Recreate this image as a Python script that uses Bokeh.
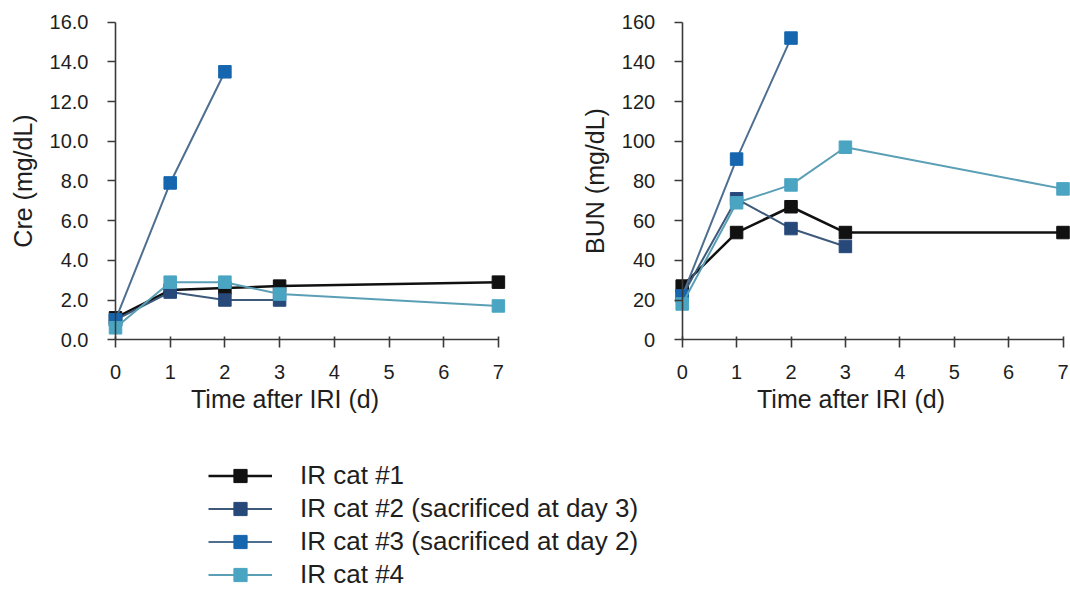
from bokeh.plotting import figure
from bokeh.models import (Range1d, LinearAxis, FixedTicker, Legend, LegendItem,
                          ColumnDataSource, PrintfTickFormatter)
from bokeh.layouts import column, row
from bokeh.embed import file_html
from bokeh.resources import INLINE

# ---------------- data ----------------
days = [0, 1, 2, 3, 7]
series_names = ["IR cat #1", "IR cat #2 (sacrificed at day 3)",
                "IR cat #3 (sacrificed at day 2)", "IR cat #4"]

cre_cat1 = [1.1, 2.5, 2.6, 2.7, 2.9]
cre_cat2 = [1.0, 2.4, 2.0, 2.0]
cre_cat3 = [1.0, 7.9, 13.5]
cre_cat4 = [0.6, 2.9, 2.9, 2.3, 1.7]

bun_cat1 = [27, 54, 67, 54, 54]
bun_cat2 = [22, 71, 56, 47]
bun_cat3 = [22, 91, 152]
bun_cat4 = [18, 69, 78, 97, 76]

x_ticks = [0, 1, 2, 3, 4, 5, 6, 7]
cre_ticks = [0, 2, 4, 6, 8, 10, 12, 14, 16]
bun_ticks = [0, 20, 40, 60, 80, 100, 120, 140, 160]

# ---------------- style ----------------
FONT = "Liberation Sans"
TXT = "#1e1e1e"
AX = "#3a3a3a"
marker_colors = ["#111111", "#27497a", "#1566ae", "#4aa5c2"]
line_colors = ["#111111", "#3d5a7a", "#4f6f90", "#5a9fb6"]
line_widths = [2.5, 2, 2, 2]
TICK_FS = "20px"
TITLE_FS = "25px"


def make_panel(w, h, x0_px, px_per_day, y0_px, ytop_px, ytop_val, yticks, ylabel, fmt):
    px_per_unit = (y0_px - ytop_px) / ytop_val
    xs = -x0_px / px_per_day
    xe = xs + w / px_per_day
    ye = ytop_val + ytop_px / px_per_unit
    ys = ye - h / px_per_unit
    p = figure(width=w, height=h, x_range=Range1d(xs, xe), y_range=Range1d(ys, ye),
               output_backend="svg", toolbar_location=None,
               x_axis_type=None, y_axis_type=None, min_border=0)
    p.outline_line_color = None
    p.background_fill_color = "white"
    p.border_fill_color = "white"

    xax = LinearAxis(ticker=FixedTicker(ticks=x_ticks), bounds=(0, 7))
    xax.fixed_location = 0
    xax.axis_line_color = AX
    xax.axis_line_width = 1.6
    xax.major_tick_line_color = AX
    xax.major_tick_line_width = 1.6
    xax.major_tick_in = 3
    xax.major_tick_out = 8
    xax.minor_tick_line_color = None
    xax.major_label_text_font = FONT
    xax.major_label_text_font_size = TICK_FS
    xax.major_label_text_color = TXT
    xax.major_label_standoff = 17
    p.add_layout(xax, "below")

    # axis carrying the title (no line, ticks or visible tick labels)
    tax = LinearAxis(ticker=FixedTicker(ticks=x_ticks), bounds=(0, 7 - 44 / px_per_day))
    tax.fixed_location = 0
    tax.axis_line_color = None
    tax.major_tick_line_color = None
    tax.major_tick_in = 3
    tax.major_tick_out = 8
    tax.minor_tick_line_color = None
    tax.major_label_text_font = FONT
    tax.major_label_text_font_size = TICK_FS
    tax.major_label_text_alpha = 0
    tax.major_label_standoff = 17
    tax.axis_label = "Time after IRI (d)"
    tax.axis_label_text_font = FONT
    tax.axis_label_text_font_style = "normal"
    tax.axis_label_text_font_size = TITLE_FS
    tax.axis_label_text_color = TXT
    tax.axis_label_standoff = 37
    p.add_layout(tax, "below")

    yax = LinearAxis(ticker=FixedTicker(ticks=yticks), bounds=(0, ytop_val),
                     formatter=PrintfTickFormatter(format=fmt))
    yax.fixed_location = 0
    yax.axis_line_color = AX
    yax.axis_line_width = 1.6
    yax.major_tick_line_color = AX
    yax.major_tick_line_width = 1.6
    yax.major_tick_in = 0
    yax.major_tick_out = 8
    yax.minor_tick_line_color = None
    yax.major_label_text_font = FONT
    yax.major_label_text_font_size = TICK_FS
    yax.major_label_text_color = TXT
    yax.major_label_standoff = 19
    yax.axis_label = ylabel
    yax.axis_label_text_font = FONT
    yax.axis_label_text_font_style = "normal"
    yax.axis_label_text_font_size = TITLE_FS
    yax.axis_label_text_color = TXT
    yax.axis_label_standoff = 10
    p.add_layout(yax, "left")
    return p


def add_series(p, series):
    for i, vals in enumerate(series):
        src = ColumnDataSource(dict(x=days[:len(vals)], y=vals))
        p.line("x", "y", source=src, line_color=line_colors[i], line_width=line_widths[i])
        p.scatter("x", "y", source=src, marker="square", size=12.5,
                  fill_color=marker_colors[i], line_color=marker_colors[i], line_width=1)


p1 = make_panel(568, 420, 115, 54.7, 339.2, 21.7, 16, cre_ticks, "Cre (mg/dL)", "%.1f")
add_series(p1, [cre_cat1, cre_cat2, cre_cat3, cre_cat4])

p2 = make_panel(502, 420, 113.7, 54.4, 339.2, 21.7, 160, bun_ticks, "BUN (mg/dL)", "%d")
add_series(p2, [bun_cat1, bun_cat2, bun_cat3, bun_cat4])

# ---------------- legend panel ----------------
p3 = figure(width=1070, height=171, x_range=Range1d(0, 1), y_range=Range1d(0, 1),
            output_backend="svg", toolbar_location=None,
            x_axis_type=None, y_axis_type=None, min_border=0)
p3.outline_line_color = None
items = []
for i, name in enumerate(series_names):
    src = ColumnDataSource(dict(x=[float("nan")], y=[float("nan")]))
    lr = p3.line("x", "y", source=src, line_color=line_colors[i], line_width=line_widths[i])
    sr = p3.scatter("x", "y", source=src, marker="square", size=12,
                    fill_color=marker_colors[i], line_color=marker_colors[i])
    items.append(LegendItem(label=name, renderers=[lr, sr]))
legend = Legend(items=items, location=(208, 0), orientation="vertical")
legend.padding = 0
legend.margin = 0
legend.spacing = 0
legend.glyph_width = 64
legend.glyph_height = 33
legend.label_height = 33
legend.label_standoff = 28
legend.label_text_font = FONT
legend.label_text_font_size = "26px"
legend.label_text_color = TXT
legend.border_line_color = None
legend.background_fill_alpha = 0
p3.add_layout(legend)

layout = column(row(p1, p2), p3)
open("out.html", "w").write(file_html(layout, INLINE))
